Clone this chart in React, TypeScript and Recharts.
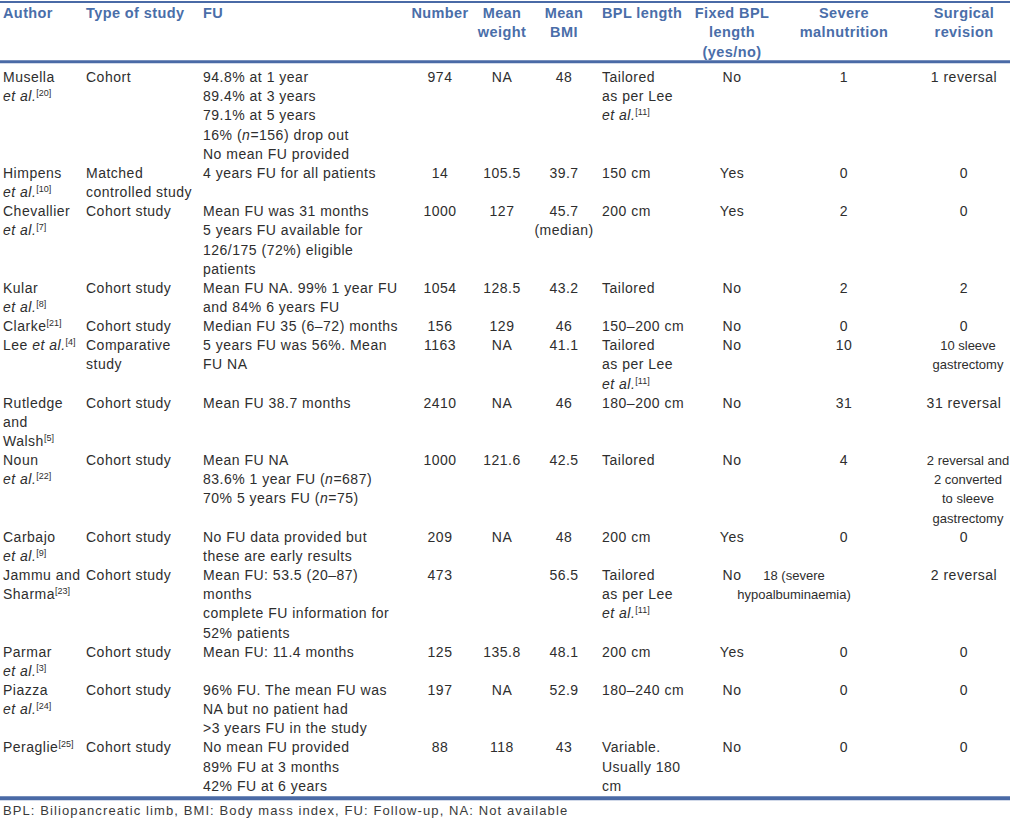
import React from 'react';
import { ScatterChart, Scatter, XAxis, YAxis, ReferenceLine } from 'recharts';

// --- table content (one entry per study row) ---
const headers = ['Author', 'Type of study', 'FU', 'Number', 'Mean\nweight', 'Mean\nBMI', 'BPL length', 'Fixed BPL\nlength\n(yes/no)', 'Severe\nmalnutrition', 'Surgical\nrevision'];

const authors = ['Musella\n*et al.*^[20]', 'Himpens\n*et al.*^[10]', 'Chevallier\n*et al.*^[7]', 'Kular\n*et al.*^[8]', 'Clarke^[21]', 'Lee *et al.*^[4]', 'Rutledge\nand\nWalsh^[5]', 'Noun\n*et al.*^[22]', 'Carbajo\n*et al.*^[9]', 'Jammu and\nSharma^[23]', 'Parmar\n*et al.*^[3]', 'Piazza\n*et al.*^[24]', 'Peraglie^[25]'];

const studyTypes = ['Cohort', 'Matched\ncontrolled study', 'Cohort study', 'Cohort study', 'Cohort study', 'Comparative\nstudy', 'Cohort study', 'Cohort study', 'Cohort study', 'Cohort study', 'Cohort study', 'Cohort study', 'Cohort study'];

const followUps = [
  '94.8% at 1 year\n89.4% at 3 years\n79.1% at 5 years\n16% (*n*=156) drop out\nNo mean FU provided',
  '4 years FU for all patients',
  'Mean FU was 31 months\n5 years FU available for\n126/175 (72%) eligible\npatients',
  'Mean FU NA. 99% 1 year FU\nand 84% 6 years FU',
  'Median FU 35 (6–72) months',
  '5 years FU was 56%. Mean\nFU NA',
  'Mean FU 38.7 months',
  'Mean FU NA\n83.6% 1 year FU (*n*=687)\n70% 5 years FU (*n*=75)',
  'No FU data provided but\nthese are early results',
  'Mean FU: 53.5 (20–87)\nmonths\ncomplete FU information for\n52% patients',
  'Mean FU: 11.4 months',
  '96% FU. The mean FU was\nNA but no patient had\n>3 years FU in the study',
  'No mean FU provided\n89% FU at 3 months\n42% FU at 6 years',
];

const numbers = ['974', '14', '1000', '1054', '156', '1163', '2410', '1000', '209', '473', '125', '197', '88'];
const meanWeights = ['NA', '105.5', '127', '128.5', '129', 'NA', 'NA', '121.6', 'NA', '', '135.8', 'NA', '118'];
const meanBmis = ['48', '39.7', '45.7\n(median)', '43.2', '46', '41.1', '46', '42.5', '48', '56.5', '48.1', '52.9', '43'];
const bplLengths = ['Tailored\nas per Lee\n*et al.*^[11]', '150 cm', '200 cm', 'Tailored', '150–200 cm', 'Tailored\nas per Lee\n*et al.*^[11]', '180–200 cm', 'Tailored', '200 cm', 'Tailored\nas per Lee\n*et al.*^[11]', '200 cm', '180–240 cm', 'Variable.\nUsually 180\ncm'];
const fixedBpl = ['No', 'Yes', 'Yes', 'No', 'No', 'No', 'No', 'No', 'Yes', 'No', 'Yes', 'No', 'No'];
const severeMalnutrition = ['1', '0', '2', '2', '0', '10', '31', '4', '0', '18 (severe\nhypoalbuminaemia)', '0', '0', '0'];
const surgicalRevision = ['1 reversal', '0', '0', '2', '0', '10 sleeve\ngastrectomy', '31 reversal', '2 reversal and\n2 converted\nto sleeve\ngastrectomy', '0', '2 reversal', '0', '0', '0'];

const footnote = 'BPL: Biliopancreatic limb, BMI: Body mass index, FU: Follow-up, NA: Not available';

const columnValues = [authors, studyTypes, followUps, numbers, meanWeights, meanBmis, bplLengths, fixedBpl, severeMalnutrition, surgicalRevision];

// --- layout ---
const W = 1010;
const H = 819;
const LINE_PX = 19.15; // one text line
const Y_MIN = -13 / LINE_PX;
const Y_MAX = Y_MIN + H / LINE_PX;
const BODY_START = 3.35;
const RULE = '#4a6aa6';

const columns = [
  { x: 3, anchor: 'start' },
  { x: 86, anchor: 'start' },
  { x: 203, anchor: 'start' },
  { x: 440, anchor: 'middle' },
  { x: 502, anchor: 'middle' },
  { x: 564, anchor: 'middle' },
  { x: 602, anchor: 'start' },
  { x: 732, anchor: 'middle' },
  { x: 844, anchor: 'middle' },
  { x: 964, anchor: 'middle' },
];
// a few wide cells are set tighter / off-centre in the source
const cellTweak: Record<string, { dx: number; size?: number; spacing?: number }> = {
  '8-9': { dx: -50, size: 13, spacing: 0 },
  '9-5': { dx: 4, size: 13, spacing: 0 },
  '9-7': { dx: 4, size: 13, spacing: 0 },
};

const lineCount = (s: string) => s.split('\n').length;
const rowLines = authors.map((_, i) => Math.max(...columnValues.map((col) => lineCount(col[i]))));
const rowStart: number[] = [];
rowLines.reduce((acc, n, i) => {
  rowStart[i] = acc;
  return acc + n;
}, BODY_START);
const bodyEnd = BODY_START + rowLines.reduce((a, b) => a + b, 0);

// split "*italic*" and "^[sup]" markup
function segments(line: string) {
  return line
    .split(/(\*[^*]+\*|\^\[[^\]]*\])/g)
    .filter((s) => s.length)
    .map((s) => {
      if (s.startsWith('*')) return { t: s.slice(1, -1), italic: true, sup: false };
      if (s.startsWith('^')) return { t: s.slice(1), italic: false, sup: true };
      return { t: s, italic: false, sup: false };
    });
}

function cellShape(style: { size: number; weight: string; fill: string; spacing?: number }, anchor: string) {
  return (props: any) => {
    const { cx, cy, payload } = props;
    if (!payload || !payload.text) return <g />;
    const lines = String(payload.text).split('\n');
    const tw = payload.tweak || {};
    const x0 = cx + (tw.dx || 0);
    const size = tw.size ?? style.size;
    return (
      <text
        textAnchor={anchor as any}
        fontFamily="'Liberation Sans', Arial, sans-serif"
        fontSize={size}
        fontWeight={style.weight}
        fill={style.fill}
        letterSpacing={tw.spacing ?? style.spacing ?? 0}
      >
        {lines.map((ln, li) => {
          let raised = false;
          return segments(ln).map((sg, si) => {
            const first = si === 0;
            let dy: number | undefined;
            if (sg.sup) {
              dy = -5;
              raised = true;
            } else if (raised) {
              dy = 5;
              raised = false;
            }
            return (
              <tspan
                key={`${li}-${si}`}
                x={first ? x0 : undefined}
                y={first ? cy + li * LINE_PX + style.size * 0.36 : undefined}
                dy={dy}
                fontStyle={sg.italic ? 'italic' : undefined}
                fontSize={sg.sup ? 9 : undefined}
                letterSpacing={sg.sup ? 0 : undefined}
              >
                {sg.t}
              </tspan>
            );
          });
        })}
      </text>
    );
  };
}

const bodyStyle = { size: 14, weight: 'normal', fill: '#2e2e2e', spacing: 0.5 };
const headStyle = { size: 14.5, weight: 'bold', fill: '#4a6ea9', spacing: 0.4 };
const noteStyle = { size: 13, weight: 'normal', fill: '#3a3a3a', spacing: 1.1 };

export default function App() {
  return (
    <div style={{ position: 'absolute', left: 0, top: 0, width: W, height: H, background: '#fff' }}>
      <ScatterChart width={W} height={H} margin={{ top: 0, right: 0, bottom: 0, left: 0 }}>
        <XAxis type="number" dataKey="x" domain={[0, W]} hide allowDataOverflow />
        <YAxis type="number" dataKey="y" domain={[Y_MIN, Y_MAX]} reversed hide allowDataOverflow />
        <ReferenceLine y={Y_MIN + 2 / LINE_PX} stroke={RULE} strokeWidth={2} />
        <ReferenceLine y={2.55} stroke={RULE} strokeWidth={3} />
        <ReferenceLine y={bodyEnd - 0.34} stroke={RULE} strokeWidth={4} />
        {columns.map((c, ci) => (
          <Scatter
            key={`h-${ci}`}
            data={[{ x: c.x, y: 0, text: headers[ci] }]}
            shape={cellShape(headStyle, c.anchor)}
            isAnimationActive={false}
          />
        ))}
        {columns.map((c, ci) => (
          <Scatter
            key={`c-${ci}`}
            data={columnValues[ci].map((text, ri) => ({ x: c.x, y: rowStart[ri], text, tweak: cellTweak[`${ci}-${ri}`] }))}
            shape={cellShape(bodyStyle, c.anchor)}
            isAnimationActive={false}
          />
        ))}
        <Scatter
          data={[{ x: 3, y: bodyEnd + 0.3, text: footnote }]}
          shape={cellShape(noteStyle, 'start')}
          isAnimationActive={false}
        />
      </ScatterChart>
    </div>
  );
}
